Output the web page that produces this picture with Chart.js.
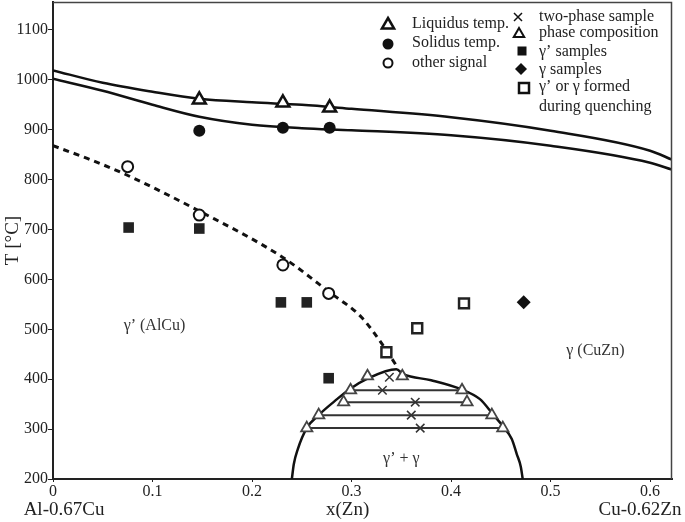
<!DOCTYPE html>
<html>
<head>
<meta charset="utf-8">
<script src="https://cdn.jsdelivr.net/npm/chart.js@4"></script>
<style>
  html, body { margin: 0; padding: 0; background: #fff; }
</style>
</head>
<body>
<canvas id="phaseChart" width="685" height="522"></canvas>
<script>
// --------- Axis ticks ----------
const xTickValues = [0, 0.1, 0.2, 0.3, 0.4, 0.5, 0.6];
const yTickValues = [200, 300, 400, 500, 600, 700, 800, 900, 1000, 1100];

// --------- Measured points ----------
const liquidusX = [0.147, 0.231, 0.278];
const liquidusT = [960, 954, 944];
const solidusX = [0.147, 0.231, 0.278];
const solidusT = [898, 904, 904];
const otherX = [0.075, 0.147, 0.231, 0.277];
const otherT = [826, 729, 629, 572];
const gammaPrimeX = [0.076, 0.147, 0.229, 0.255, 0.277];
const gammaPrimeT = [704, 702, 554, 554, 402];
const gammaX = [0.473];
const gammaT = [554];
const quenchX = [0.335, 0.366, 0.413];
const quenchT = [454, 502, 552];

// tie lines (left comp, two-phase sample, right comp)
const tieT = [378, 354, 328, 302];
const tieLeftX = [0.299, 0.292, 0.267, 0.255];
const tieMidX = [0.331, 0.364, 0.360, 0.369];
const tieRightX = [0.411, 0.416, 0.441, 0.452];
// top sample, no tie line drawn
const topCompX = [0.316, 0.351];
const topCompT = [406, 406];
const topMidX = [0.338];
const topMidT = [404];

// --------- Curves ----------
const liqCurveX = [0, 0.05, 0.1, 0.147, 0.2, 0.25, 0.3, 0.4, 0.5, 0.6, 0.622];
const liqCurveT = [1019, 994, 976, 962, 955, 950, 942, 925, 898, 858, 840];
const solCurveX = [0, 0.05, 0.1, 0.147, 0.2, 0.25, 0.3, 0.4, 0.5, 0.6, 0.622];
const solCurveT = [1002, 978, 950, 926, 910, 903, 899, 889, 868, 834, 820];
const dashCurveX = [0, 0.035, 0.07, 0.147, 0.231, 0.278, 0.31, 0.335, 0.346];
const dashCurveT = [868, 842, 813, 737, 644, 574, 524, 458, 424];
const domeX = [0.240, 0.242, 0.246, 0.255, 0.268, 0.283, 0.298, 0.315, 0.345, 0.352, 0.380, 0.410, 0.429, 0.442, 0.452, 0.461, 0.466, 0.470, 0.472];
const domeT = [200, 230, 260, 302, 330, 356, 380, 400, 420, 410, 398, 380, 360, 330, 306, 280, 250, 225, 200];

const pts = (xs, ys) => xs.map((x, i) => ({ x: x, y: ys[i] }));

const SERIF = '"Liberation Serif", "Times New Roman", serif';
Chart.defaults.font.family = SERIF;
Chart.defaults.color = '#222';

function curve(xs, ys, extra) {
  return Object.assign({
    data: pts(xs, ys),
    showLine: true,
    pointRadius: 0,
    borderColor: '#111',
    borderWidth: 2.5,
    cubicInterpolationMode: 'monotone',
    fill: false,
  }, extra || {});
}

const tieLines = tieT.map((t, i) => curve([tieLeftX[i], tieRightX[i]], [t, t], {
  borderWidth: 2,
  borderColor: '#333',
  cubicInterpolationMode: 'default',
  tension: 0,
}));

// --------- Small hand-drawn legend + labels ----------
function marker(ctx, type, x, y, s) {
  ctx.save();
  ctx.strokeStyle = '#111';
  ctx.fillStyle = '#111';
  ctx.beginPath();
  if (type === 'tri' || type === 'triThin') {
    ctx.lineWidth = type === 'tri' ? 2.5 : 2;
    ctx.moveTo(x, y - s);
    ctx.lineTo(x + s * 0.87, y + s * 0.5);
    ctx.lineTo(x - s * 0.87, y + s * 0.5);
    ctx.closePath();
    ctx.fillStyle = '#fff';
    ctx.fill();
    ctx.stroke();
  } else if (type === 'dot') {
    ctx.arc(x, y, s, 0, Math.PI * 2);
    ctx.fill();
  } else if (type === 'ring') {
    ctx.lineWidth = 2;
    ctx.arc(x, y, s, 0, Math.PI * 2);
    ctx.stroke();
  } else if (type === 'cross') {
    ctx.lineWidth = 1.5;
    ctx.moveTo(x - s, y - s); ctx.lineTo(x + s, y + s);
    ctx.moveTo(x + s, y - s); ctx.lineTo(x - s, y + s);
    ctx.stroke();
  } else if (type === 'square') {
    ctx.fillRect(x - s, y - s, 2 * s, 2 * s);
  } else if (type === 'diamond') {
    ctx.moveTo(x, y - s); ctx.lineTo(x + s, y); ctx.lineTo(x, y + s); ctx.lineTo(x - s, y);
    ctx.closePath();
    ctx.fill();
  } else if (type === 'box') {
    ctx.lineWidth = 2.5;
    ctx.strokeRect(x - s, y - s, 2 * s, 2 * s);
  }
  ctx.restore();
}

const decorPlugin = {
  id: 'decor',
  afterDraw(chart) {
    const ctx = chart.ctx;
    const a = chart.chartArea;
    const xs = chart.scales.x;
    const ys = chart.scales.y;

    // frame on top and right
    ctx.save();
    ctx.strokeStyle = '#444';
    ctx.lineWidth = 1.5;
    ctx.beginPath();
    ctx.moveTo(a.left, a.top + 0.5);
    ctx.lineTo(a.right - 0.5, a.top + 0.5);
    ctx.lineTo(a.right - 0.5, a.bottom);
    ctx.stroke();
    ctx.restore();

    ctx.save();
    ctx.textBaseline = 'middle';

    // region labels
    ctx.fillStyle = '#333';
    ctx.font = '16px ' + SERIF;
    ctx.textAlign = 'center';
    ctx.fillText('γ’ (AlCu)', xs.getPixelForValue(0.102), ys.getPixelForValue(508));
    ctx.fillText('γ (CuZn)', xs.getPixelForValue(0.545), ys.getPixelForValue(456));
    ctx.fillText('γ’ + γ', xs.getPixelForValue(0.350), ys.getPixelForValue(240));

    // axis end labels
    ctx.fillStyle = '#222';
    ctx.font = '19px ' + SERIF;
    ctx.fillText('Al-0.67Cu', 64, 510);
    ctx.fillText('Cu-0.62Zn', 640, 510);
    ctx.fillText('x(Zn)', xs.getPixelForValue(0.296), 510);

    // left legend
    ctx.font = '16px ' + SERIF;
    ctx.textAlign = 'left';
    marker(ctx, 'tri', 388, 25, 7);
    ctx.fillText('Liquidus temp.', 412, 24);
    marker(ctx, 'dot', 388, 44, 5.5);
    ctx.fillText('Solidus temp.', 412, 43);
    marker(ctx, 'ring', 388, 63, 4.5);
    ctx.fillText('other signal', 412, 63);

    // right legend
    marker(ctx, 'cross', 518, 17, 4);
    ctx.fillText('two-phase sample', 539, 17);
    marker(ctx, 'triThin', 519, 34, 6);
    ctx.fillText('phase composition', 539, 33);
    marker(ctx, 'square', 522, 51, 4.5);
    ctx.fillText('γ’ samples', 539, 52);
    marker(ctx, 'diamond', 521, 69, 6);
    ctx.fillText('γ samples', 539, 70);
    marker(ctx, 'box', 524, 88, 5);
    ctx.fillText('γ’ or γ formed', 539, 87);
    ctx.fillText('during quenching', 539, 107);
    ctx.restore();
  }
};

new Chart(document.getElementById('phaseChart'), {
  type: 'scatter',
  data: {
    datasets: [
      {
        data: pts(tieMidX.concat(topMidX), tieT.concat(topMidT)),
        pointStyle: 'crossRot', pointRadius: 6, borderColor: '#333', borderWidth: 1.5,
      },
      {
        data: pts(tieLeftX.concat(tieRightX, topCompX), tieT.concat(tieT, topCompT)),
        pointStyle: 'triangle', pointRadius: 6.5, borderColor: '#444', backgroundColor: '#fff', borderWidth: 1.8,
      },
      {
        data: pts(liquidusX, liquidusT),
        pointStyle: 'triangle', pointRadius: 7.5, borderColor: '#111', backgroundColor: '#fff', borderWidth: 2.5,
      },
      {
        data: pts(solidusX, solidusT),
        pointStyle: 'circle', pointRadius: 6, borderColor: '#111', backgroundColor: '#111', borderWidth: 0,
      },
      {
        data: pts(otherX, otherT),
        pointStyle: 'circle', pointRadius: 5.5, borderColor: '#111', backgroundColor: '#fff', borderWidth: 2,
      },
      {
        data: pts(gammaPrimeX, gammaPrimeT),
        pointStyle: 'rect', pointRadius: 7.5, borderColor: '#222', backgroundColor: '#222', borderWidth: 0,
      },
      {
        data: pts(gammaX, gammaT),
        pointStyle: 'rectRot', pointRadius: 7, borderColor: '#111', backgroundColor: '#111', borderWidth: 0,
      },
      {
        data: pts(quenchX, quenchT),
        pointStyle: 'rect', pointRadius: 7, borderColor: '#222', backgroundColor: '#fff', borderWidth: 2.5,
      },
      ...tieLines,
      curve(domeX, domeT),
      curve(dashCurveX, dashCurveT, { borderDash: [6, 5], borderWidth: 3 }),
      curve(liqCurveX, liqCurveT),
      curve(solCurveX, solCurveT),
    ],
  },
  options: {
    responsive: false,
    animation: false,
    devicePixelRatio: 1,
    layout: { autoPadding: false, padding: { top: 2, right: 13, left: 0, bottom: 0 } },
    plugins: { legend: { display: false }, tooltip: { enabled: false } },
    scales: {
      x: {
        type: 'linear',
        min: 0,
        max: 0.622,
        afterBuildTicks: (s) => { s.ticks = xTickValues.map((v) => ({ value: v })); },
        afterFit: (s) => { s.height = 43; s.paddingLeft = 0; s.paddingRight = 0; },
        border: { color: '#222', width: 2 },
        grid: { drawOnChartArea: false, tickLength: 3, tickColor: '#222', tickWidth: 1 },
        ticks: {
          padding: 0,
          maxRotation: 0,
          font: { size: 16 },
          color: '#222',
          callback: (v) => String(+v.toFixed(1)),
        },
      },
      y: {
        type: 'linear',
        min: 200,
        max: 1156,
        afterBuildTicks: (s) => { s.ticks = yTickValues.map((v) => ({ value: v })); },
        afterFit: (s) => { s.width = 53; s.paddingTop = 0; s.paddingBottom = 0; },
        border: { color: '#222', width: 2 },
        grid: { drawOnChartArea: false, tickLength: 5, tickColor: '#222', tickWidth: 1 },
        title: { display: true, text: 'T [°C]', font: { size: 19 }, color: '#222', padding: { top: 2, bottom: 0 } },
        ticks: {
          padding: 0,
          font: { size: 16 },
          color: '#222',
          callback: (v) => String(v),
        },
      },
    },
  },
  plugins: [decorPlugin],
});
</script>
</body>
</html>
